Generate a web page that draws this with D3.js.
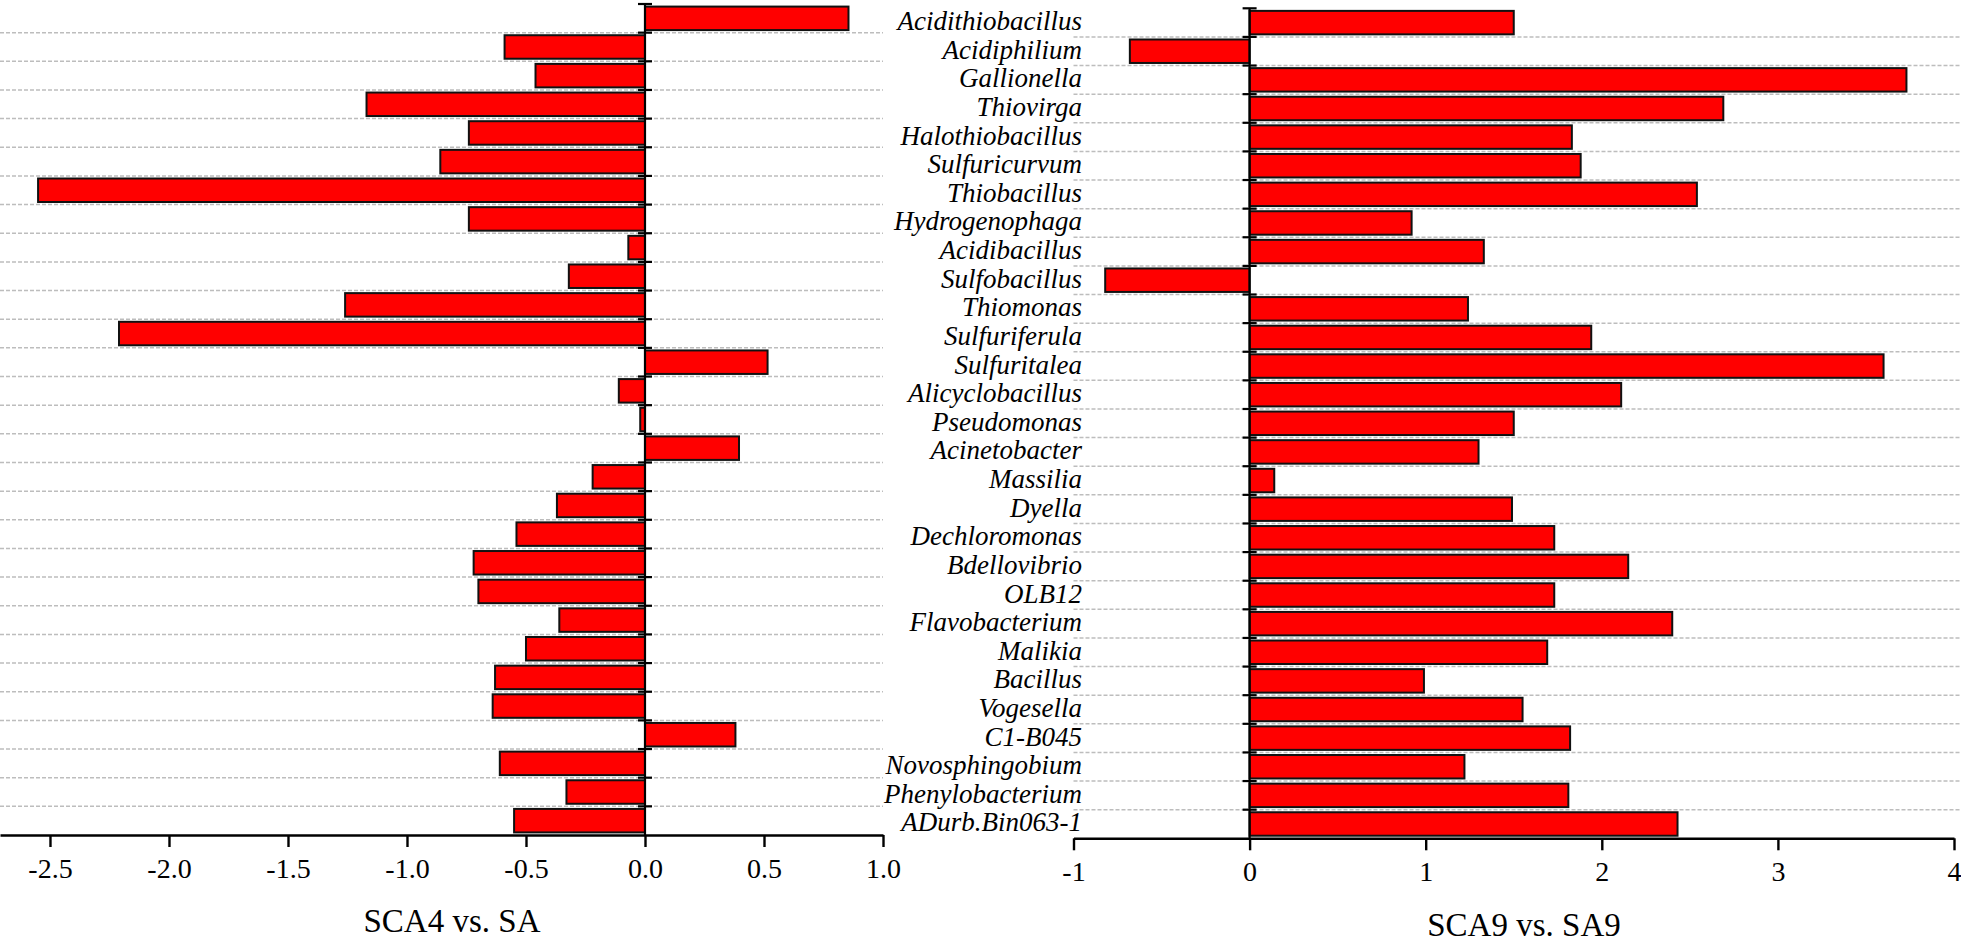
<!DOCTYPE html>
<html>
<head>
<meta charset="utf-8">
<script src="https://cdn.jsdelivr.net/npm/d3@7"></script>
<style>
  html, body { margin: 0; padding: 0; background: #fff; }
  svg { display: block; }
</style>
</head>
<body>
<script>
const categories = [
  "Acidithiobacillus", "Acidiphilium", "Gallionella", "Thiovirga", "Halothiobacillus",
  "Sulfuricurvum", "Thiobacillus", "Hydrogenophaga", "Acidibacillus", "Sulfobacillus",
  "Thiomonas", "Sulfuriferula", "Sulfuritalea", "Alicyclobacillus", "Pseudomonas",
  "Acinetobacter", "Massilia", "Dyella", "Dechloromonas", "Bdellovibrio",
  "OLB12", "Flavobacterium", "Malikia", "Bacillus", "Vogesella",
  "C1-B045", "Novosphingobium", "Phenylobacterium", "ADurb.Bin063-1"
];

const sca4VsSA = [
  0.855, -0.59, -0.46, -1.17, -0.74,
  -0.86, -2.55, -0.74, -0.07, -0.32,
  -1.26, -2.21, 0.515, -0.11, -0.02,
  0.395, -0.22, -0.37, -0.54, -0.72,
  -0.70, -0.36, -0.50, -0.63, -0.64,
  0.38, -0.61, -0.33, -0.55
];

const sca9VsSA9 = [
  1.50, -0.68, 3.73, 2.69, 1.83,
  1.88, 2.54, 0.92, 1.33, -0.82,
  1.24, 1.94, 3.60, 2.11, 1.50,
  1.30, 0.14, 1.49, 1.73, 2.15,
  1.73, 2.40, 1.69, 0.99, 1.55,
  1.82, 1.22, 1.81, 2.43
];

const leftTicks = [-2.5, -2.0, -1.5, -1.0, -0.5, 0.0, 0.5, 1.0];
const rightTicks = [-1, 0, 1, 2, 3, 4];
const leftTitle = "SCA4 vs. SA";
const rightTitle = "SCA9 vs. SA9";

const W = 1961, H = 945;
const svg = d3.select("body").append("svg")
  .attr("width", W).attr("height", H)
  .attr("viewBox", `0 0 ${W} ${H}`);
svg.append("rect").attr("width", W).attr("height", H).attr("fill", "#fff");

const serif = "'Liberation Serif', 'Times New Roman', Times, serif";
const PAD_IN = 0.18, PAD_OUT = 0.09;

function drawPanel(cfg) {
  const x = d3.scaleLinear().domain(cfg.domain).range(cfg.range);
  const y = d3.scaleBand().domain(categories).range([cfg.top, cfg.bottom])
    .paddingInner(PAD_IN).paddingOuter(PAD_OUT);
  const step = y.step();
  const g = svg.append("g");

  const boundaries = categories.map(c => y(c) - step * PAD_IN / 2);

  g.append("g").selectAll("line")
    .data(boundaries.slice(1))
    .join("line")
    .attr("x1", cfg.gridX[0]).attr("x2", cfg.gridX[1])
    .attr("y1", d => d).attr("y2", d => d)
    .attr("stroke", "#bdbdbd")
    .attr("stroke-width", 1.5)
    .attr("stroke-dasharray", "4,2");

  g.append("g").selectAll("rect")
    .data(categories.map((c, i) => ({ c, v: cfg.values[i] })))
    .join("rect")
    .attr("x", d => x(Math.min(0, d.v)))
    .attr("width", d => Math.abs(x(d.v) - x(0)))
    .attr("y", d => y(d.c))
    .attr("height", y.bandwidth())
    .attr("fill", "#ff0000")
    .attr("stroke", "#111")
    .attr("stroke-width", 2);

  const x0 = x(0);
  g.append("line")
    .attr("x1", x0).attr("x2", x0)
    .attr("y1", cfg.top).attr("y2", cfg.bottom)
    .attr("stroke", "#000").attr("stroke-width", 2.2);
  g.append("g").selectAll("line")
    .data(boundaries)
    .join("line")
    .attr("x1", x0 - 7).attr("x2", x0 + 7)
    .attr("y1", d => d).attr("y2", d => d)
    .attr("stroke", "#000").attr("stroke-width", 2.2);

  const fmt = cfg.format;
  const ax = d3.axisBottom(x)
    .tickValues(cfg.ticks)
    .tickSize(12)
    .tickSizeOuter(0)
    .tickFormat(d => fmt(d).replace("\u2212", "-"));
  const axG = g.append("g")
    .attr("transform", `translate(0,${cfg.bottom})`)
    .call(ax);
  axG.attr("font-family", serif);
  axG.select(".domain").attr("stroke", "#000").attr("stroke-width", 2.6);
  axG.selectAll(".tick line").attr("stroke", "#000").attr("stroke-width", 2.4);
  axG.selectAll(".tick text")
    .attr("y", 43).attr("dy", 0)
    .attr("fill", "#000")
    .style("font-family", serif)
    .style("font-size", "28px");

  g.append("text")
    .attr("x", cfg.titleX).attr("y", cfg.titleY)
    .attr("text-anchor", "middle")
    .style("font-family", serif)
    .style("font-size", "33px")
    .attr("fill", "#000")
    .text(cfg.title);

  return { x, y };
}

const left = drawPanel({
  values: sca4VsSA,
  domain: [-2.71, 1.0],
  range: [0, 883],
  gridX: [0, 883],
  top: 4, bottom: 835,
  ticks: leftTicks,
  format: d3.format(".1f"),
  title: leftTitle, titleX: 452, titleY: 932
});

const right = drawPanel({
  values: sca9VsSA9,
  domain: [-1, 4],
  range: [1073.5, 1954],
  gridX: [1073.5, 1961],
  top: 8.3, bottom: 838.3,
  ticks: rightTicks,
  format: d3.format("d"),
  title: rightTitle, titleX: 1524, titleY: 936
});

svg.append("g").selectAll("text")
  .data(categories)
  .join("text")
  .attr("x", 1082)
  .attr("y", d => right.y(d) + right.y.bandwidth() / 2 + 7.5)
  .attr("text-anchor", "end")
  .style("font-family", serif)
  .style("font-style", "italic")
  .style("font-size", "27px")
  .attr("fill", "#000")
  .text(d => d);
</script>
</body>
</html>
